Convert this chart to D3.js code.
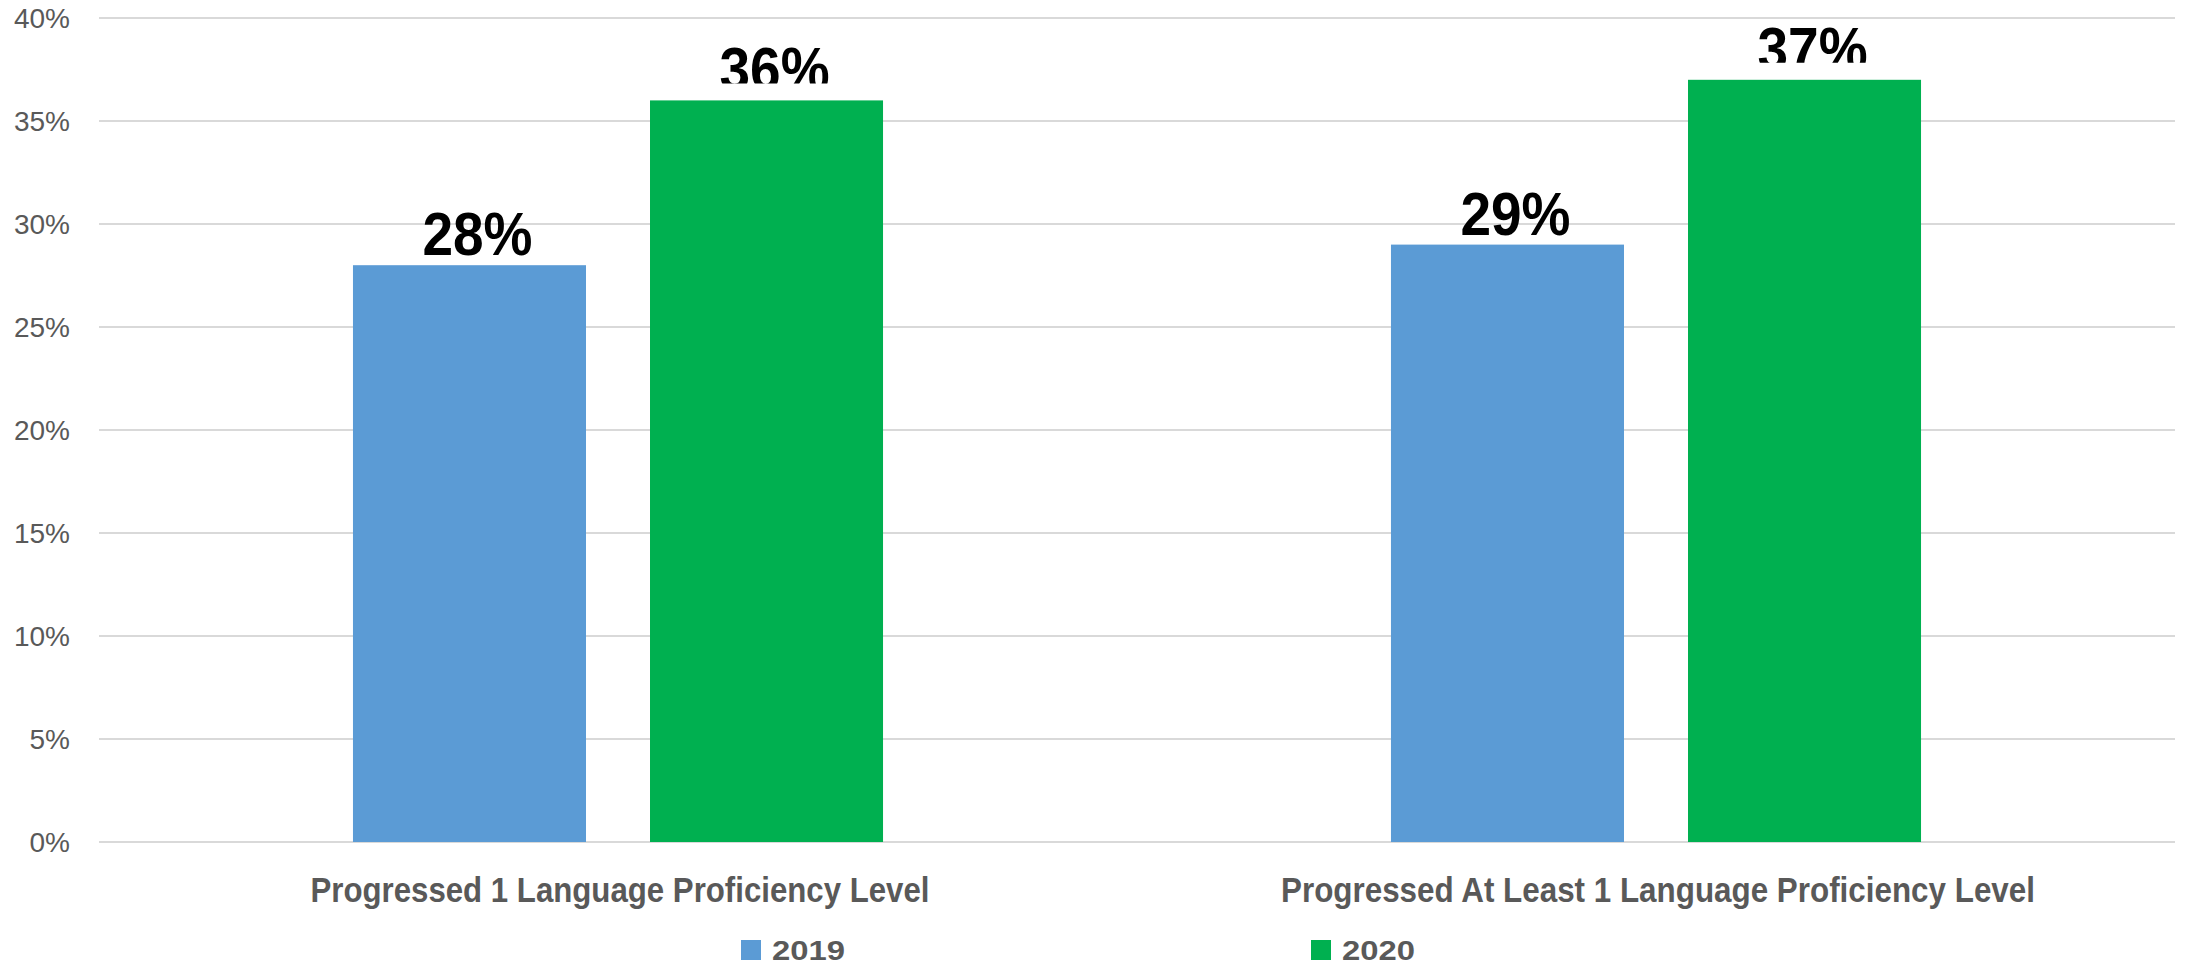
<!DOCTYPE html>
<html>
<head>
<meta charset="utf-8">
<script src="https://cdn.jsdelivr.net/npm/d3@7"></script>
<style>
  html, body { margin: 0; padding: 0; background: #ffffff; }
  svg { display: block; }
</style>
</head>
<body>
<script>
const categories = ["Progressed 1 Language Proficiency Level", "Progressed At Least 1 Language Proficiency Level"];
const seriesNames = ["2019", "2020"];
const values2019 = [28, 29];
const values2020 = [36, 37];
const yTickValues = [0, 5, 10, 15, 20, 25, 30, 35, 40];
const yTickLabels = ["0%", "5%", "10%", "15%", "20%", "25%", "30%", "35%", "40%"];
const seriesColors = ["#5B9BD5", "#00B050"];

const W = 2191, H = 968;
const svg = d3.select("body").append("svg").attr("width", W).attr("height", H);

const y = d3.scaleLinear().domain([0, 40]).range([842, 18]);
const x0 = d3.scaleBand().domain(categories).range([99, 2175]).padding(0);
const x1 = d3.scaleBand().domain(seriesNames).range([0, x0.bandwidth()])
  .paddingInner(0.2155).paddingOuter(0.855);

// gridlines
svg.append("g").selectAll("line").data(yTickValues).join("line")
  .attr("x1", 99).attr("x2", 2175)
  .attr("y1", d => y(d)).attr("y2", d => y(d))
  .attr("stroke", "#D9D9D9").attr("stroke-width", 2);

// y tick labels
svg.append("g").selectAll("text").data(yTickValues).join("text")
  .attr("x", 70).attr("y", d => y(d))
  .attr("text-anchor", "end").attr("dominant-baseline", "central")
  .attr("font-family", "'Liberation Sans', Arial, sans-serif")
  .attr("font-size", 28).attr("fill", "#595959")
  .text((d, i) => yTickLabels[i]);

const seriesValues = [values2019, values2020];
const rows = [];
categories.forEach((c, ci) => {
  seriesNames.forEach((s, si) => rows.push({ cat: c, ser: s, si, v: seriesValues[si][ci] }));
});

// bars
svg.append("g").selectAll("rect").data(rows).join("rect")
  .attr("x", d => x0(d.cat) + x1(d.ser))
  .attr("y", d => y(d.v))
  .attr("width", x1.bandwidth())
  .attr("height", d => y(0) - y(d.v))
  .attr("fill", d => seriesColors[d.si]);

// clip paths for 2020 labels (cut off at bottom like the reference)
const defs = svg.append("defs");
rows.forEach((d, i) => {
  if (d.si === 1) {
    defs.append("clipPath").attr("id", "clip" + i)
      .append("rect")
      .attr("x", x0(d.cat) + x1(d.ser) - 50).attr("y", 0)
      .attr("width", x1.bandwidth() + 100)
      .attr("height", y(d.v) - 10 - 7);
  }
});

// value labels
svg.append("g").selectAll("text").data(rows).join("text")
  .attr("x", d => x0(d.cat) + x1(d.ser) + x1.bandwidth() / 2 + 8)
  .attr("y", d => y(d.v) - 10)
  .attr("text-anchor", "middle")
  .attr("font-family", "'Liberation Sans', Arial, sans-serif")
  .attr("font-weight", "bold").attr("font-size", 61).attr("fill", "#000000")
  .attr("textLength", 110).attr("lengthAdjust", "spacingAndGlyphs")
  .attr("clip-path", (d, i) => d.si === 1 ? "url(#clip" + i + ")" : null)
  .text(d => d.v + "%");

// category labels
const catWidths = [619, 754];
svg.append("g").selectAll("text").data(categories).join("text")
  .attr("x", d => x0(d) + x0.bandwidth() / 2 + 2)
  .attr("y", 902)
  .attr("text-anchor", "middle")
  .attr("font-family", "'Liberation Sans', Arial, sans-serif")
  .attr("font-weight", "bold").attr("font-size", 35).attr("fill", "#595959")
  .attr("textLength", (d, i) => catWidths[i]).attr("lengthAdjust", "spacingAndGlyphs")
  .text(d => d);

// legend
const legendX = [741, 1311];
const lg = svg.append("g").selectAll("g").data(seriesNames).join("g")
  .attr("transform", (d, i) => `translate(${legendX[i]},940)`);
lg.append("rect").attr("width", 20).attr("height", 20)
  .attr("fill", (d, i) => seriesColors[i]);
lg.append("text").attr("x", 31).attr("y", 20)
  .attr("font-family", "'Liberation Sans', Arial, sans-serif")
  .attr("font-weight", "bold").attr("font-size", 27).attr("fill", "#595959")
  .attr("textLength", 73).attr("lengthAdjust", "spacingAndGlyphs")
  .text(d => d);
</script>
</body>
</html>
